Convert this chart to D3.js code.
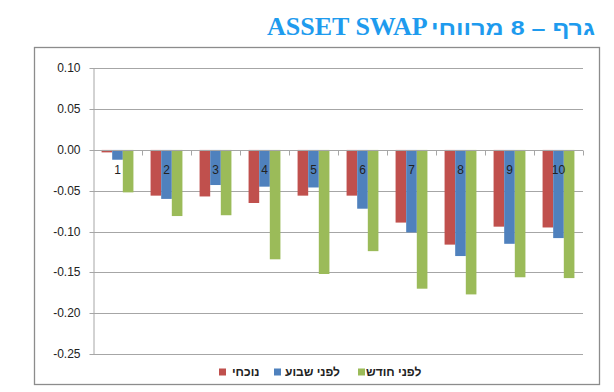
<!DOCTYPE html>
<html><head><meta charset="utf-8">
<script src="https://cdn.jsdelivr.net/npm/d3@7"></script>
<style>body{margin:0;background:#fff;}svg{display:block;}</style>
</head><body>
<svg id="c" width="614" height="392"></svg>
<script>
const categories = ["1","2","3","4","5","6","7","8","9","10"];
const seriesNames = ["נוכחי","לפני שבוע","לפני חודש"];
const current   = [-0.003,-0.056,-0.057,-0.065,-0.056,-0.056,-0.089,-0.116,-0.094,-0.095];
const weekAgo   = [-0.012,-0.060,-0.043,-0.045,-0.046,-0.072,-0.101,-0.130,-0.115,-0.108];
const monthAgo  = [-0.052,-0.081,-0.080,-0.134,-0.152,-0.124,-0.170,-0.177,-0.156,-0.157];
const yTicks = [0.10,0.05,0,-0.05,-0.10,-0.15,-0.20,-0.25];
const yTickLabels = ["0.10","0.05","0.00","-0.05","-0.10","-0.15","-0.20","-0.25"];
const titleLatin = "ASSET SWAP";
const titleHebrew = "גרף – 8 מרווחי";
const colors = ["#C0504D","#4F81BD","#9BBB59"];
const series = [current, weekAgo, monthAgo];

const svg = d3.select("#c");
const L = 93, R = 583, T = 68.3, B = 354;
const font = "'Liberation Sans', Arial, sans-serif";

// frame
svg.append("rect").attr("x",34.5).attr("y",47.5).attr("width",565).attr("height",337)
  .attr("fill","none").attr("stroke","#8c8c8c").attr("stroke-width",1.3);

// title
svg.append("text").attr("x",267).attr("y",35).attr("font-family","'Liberation Serif','Times New Roman',serif")
  .attr("font-weight","bold").attr("font-size",26).attr("fill","#1E9BEE").text(titleLatin);
svg.append("text").attr("x",595).attr("y",35).attr("text-anchor","end").attr("font-family",font)
  .attr("font-weight","bold").attr("font-size",20).attr("fill","#1E9BEE")
  .attr("textLength",164).attr("lengthAdjust","spacingAndGlyphs").text(titleHebrew);

const y = d3.scaleLinear().domain([-0.25,0.10]).range([B,T]);
const x = d3.scaleBand().domain(categories).range([L,R]).paddingInner(0.35).paddingOuter(0.175);
const xs = d3.scaleBand().domain(d3.range(series.length)).range([0,x.bandwidth()]);

// gridlines
svg.append("g").selectAll("line").data(yTicks).join("line")
  .attr("x1",L).attr("x2",R).attr("y1",d=>Math.round(y(d))+0.5).attr("y2",d=>Math.round(y(d))+0.5)
  .attr("stroke","#a6a6a6").attr("stroke-width",1);

// y axis
const yAxis = d3.axisLeft(y).tickValues(yTicks).tickSizeInner(4).tickSizeOuter(0).tickPadding(9)
  .tickFormat((d,i)=>yTickLabels[i]);
const ga = svg.append("g").attr("transform",`translate(${L+0.5},0)`).call(yAxis);
ga.select(".domain").attr("stroke","#a6a6a6");
ga.selectAll(".tick line").attr("stroke","#a6a6a6");
ga.selectAll(".tick text").attr("font-family",font).attr("font-size",12).attr("fill","#222");
ga.selectAll(".tick").attr("transform",d=>`translate(0,${Math.round(y(d))+0.5})`);

// bars
const g = svg.append("g");
series.forEach((s,si)=>{
  g.append("g").selectAll("rect").data(s).join("rect")
    .attr("x",(d,i)=>x(categories[i])+xs(si))
    .attr("width",xs.bandwidth())
    .attr("y",d=>y(Math.max(0,d)))
    .attr("height",d=>Math.abs(y(d)-y(0)))
    .attr("fill",colors[si]);
});

// zero axis with boundary ticks
const y0 = Math.round(y(0))+0.5;
svg.append("line").attr("x1",L).attr("x2",R).attr("y1",y0).attr("y2",y0).attr("stroke","#a6a6a6");
svg.append("g").selectAll("line").data(categories).join("line")
  .attr("x1",d=>Math.round(x(d)+x.bandwidth()+x.step()*x.paddingInner()/2)+0.5)
  .attr("x2",d=>Math.round(x(d)+x.bandwidth()+x.step()*x.paddingInner()/2)+0.5)
  .attr("y1",y0).attr("y2",y0+5).attr("stroke","#a6a6a6");

// category labels
const xAxis = d3.axisBottom(x).tickSize(0).tickPadding(16);
const gx = svg.append("g").attr("transform",`translate(0,${y(0)})`).call(xAxis);
gx.select(".domain").remove();
gx.selectAll(".tick text").attr("font-family",font).attr("font-size",12).attr("fill","#222");

// legend
const legendX = [219, 274, 358];
const legendTextX = [232, 285, 366];
const lg = svg.append("g");
seriesNames.forEach((n,i)=>{
  lg.append("rect").attr("x",legendX[i]).attr("y",368.5).attr("width",7).attr("height",7).attr("fill",colors[i]);
  lg.append("text").attr("x",legendTextX[i]).attr("y",376).attr("font-family",font).attr("font-weight","bold")
    .attr("font-size",12).attr("fill","#222").text(n);
});
</script>
</body></html>
